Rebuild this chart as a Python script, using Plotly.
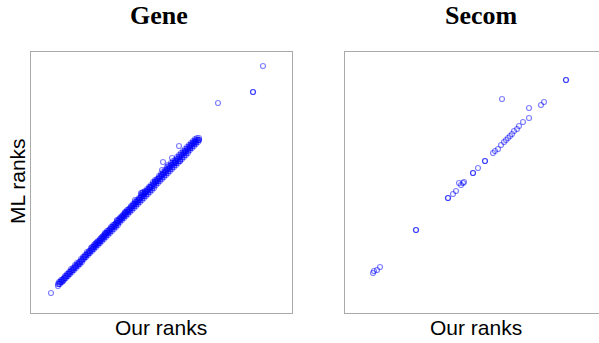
import plotly.graph_objects as go

# ---------------- data (ranks) ----------------
# Gene: dense band, lower row
gene_band_our_a = [27,29,31,33,35,37,39,41,43,45,47,49,51,53,55,57,59,61,63,65,67,69,71,73,75,77,79,81,83,85,87,89,91,93,95,97,99,101,103,105,107,109,111,113,115,117,119,121,123,125,127,129,131,133,135,137,139,141,143,145,147,149,151,153,155,157,159,161,163,165,167]
gene_band_ml_a = [27,29,31,33,35,37,39,41,43,45,47,49,51,54,56,58,60,62,64,66,68,70,72,74,76,78,80,82,84,86,88,91,93,95,97,99,101,103,105,107,109,111,113,115,117,119,121,123,125,128,130,132,134,136,138,140,142,144,146,148,150,152,154,156,158,160,163,165,167,169,171]
gene_band_ml_c = [29,31,33,35,37,39,41,43,45,47,49,51,53,56,58,60,62,64,66,68,70,72,74,76,78,80,82,84,86,88,90,93,95,97,99,101,103,105,107,109,111,113,115,117,119,121,123,125,127,130,132,134,136,138,140,142,144,146,148,150,152,154,156,158,160,162,165,167,169,171,173]
# Gene: dense band, upper rows
gene_band_our_b = [28,30,32,34,36,38,40,42,44,46,48,50,52,54,56,58,60,62,64,66,68,70,72,74,76,78,80,82,84,86,88,90,92,94,96,98,100,102,104,106,108,110,112,114,116,118,120,122,124,126,128,130,132,134,136,138,140,142,144,146,148,150,152,154,156,158,160,162,164,166,168]
gene_band_ml_b = [31,33,34,37,39,41,44,45,48,50,51,54,56,58,61,62,65,66,69,71,72,75,77,79,82,83,86,88,89,92,94,96,98,100,103,104,107,109,111,113,115,118,119,122,124,126,128,131,133,134,137,139,141,143,146,147,150,152,153,156,158,160,162,164,166,168,170,172,174,175,175]
gene_band_ml_d = [29,31,32,35,37,39,42,43,46,48,49,52,54,56,59,60,63,64,67,69,70,73,75,77,80,81,84,86,87,90,92,94,96,98,101,102,105,107,109,111,113,116,117,120,122,124,126,129,131,132,135,137,139,141,144,145,148,150,151,154,156,158,160,162,164,166,168,170,172,173,173]
gene_band_our_e = [61,63,65,67,69,71,73,75,77,79,81,83,85,87,89,91,93,95,97,99,101,103,105,107,109,111,113,115,117,119,121,123,125,127,129,131,133,135,137,139,141,143,145,147,149,151,153,155,157,159,161,163,165]
gene_band_ml_e = [66,68,70,72,74,76,78,80,82,84,86,88,90,92,95,97,99,101,103,105,107,109,111,113,115,117,119,121,123,125,127,129,132,134,136,138,140,142,144,146,148,150,152,154,156,158,160,162,164,167,169,171,173]
# Gene: isolated points
gene_pts_our = [20, 74, 86, 94, 104, 111, 114, 110, 112, 119, 124, 131, 132, 137, 141, 144, 148, 149, 154, 159, 164, 168, 187, 222, 222, 232]
gene_pts_ml  = [20, 80, 93, 101, 113, 120, 121, 120, 121, 126, 131, 143, 151, 148, 155, 150, 167, 152, 161, 165, 170, 173, 210, 221, 221, 247]

# Secom
secom_our = [221, 221, 157, 184, 196, 199, 184, 178, 174, 172, 169, 167, 165, 163, 161, 159, 156, 153, 150, 148, 140, 140, 133, 128, 128, 119, 118, 116, 114, 111, 108, 103, 103, 71, 71, 35, 32, 29, 28]
secom_ml  = [233, 233, 214, 205, 208, 211, 195, 191, 187, 184, 182, 179, 177, 175, 173, 171, 168, 164, 162, 160, 152, 152, 145, 140, 140, 131, 130, 128, 130, 122, 119, 115, 115, 83, 83, 46, 43, 42, 40]

titles = ["Gene", "Secom"]
x_label = "Our ranks"
y_label = "ML ranks"

# ---------------- figure ----------------
mk = dict(symbol="circle-open", size=5, color="rgba(0,0,255,0.5)", line=dict(width=1.2))

gene_x = (gene_band_our_a + gene_band_our_a + gene_band_our_b + gene_band_our_b
          + gene_band_our_e + gene_pts_our)
gene_y = (gene_band_ml_a + gene_band_ml_c + gene_band_ml_b + gene_band_ml_d
          + gene_band_ml_e + gene_pts_ml)

fig = go.Figure()
fig.add_trace(go.Scatter(x=gene_x, y=gene_y, mode="markers", marker=mk,
                         xaxis="x", yaxis="y", showlegend=False))
fig.add_trace(go.Scatter(x=secom_our, y=secom_ml, mode="markers", marker=mk,
                         xaxis="x2", yaxis="y2", showlegend=False))

W, H = 599, 343
yd = [(H - 313) / H, (H - 52) / H]
ax_common = dict(showgrid=False, zeroline=False, showticklabels=False, ticks="",
                 showline=True, linecolor="#aaaaaa", linewidth=1)

fig.update_layout(
    width=W, height=H, margin=dict(l=0, r=0, t=0, b=0),
    paper_bgcolor="white", plot_bgcolor="white",
    xaxis=dict(domain=[31 / W, 292 / W], range=[0, 261], mirror=True, anchor="y", **ax_common),
    yaxis=dict(domain=yd, range=[0, 261], mirror=True, anchor="x", **ax_common),
    xaxis2=dict(domain=[345 / W, 1.0], range=[0, 254], mirror=True, anchor="y2", **ax_common),
    yaxis2=dict(domain=yd, range=[0, 261], mirror=False, anchor="x2", **ax_common),
)

title_font = dict(family="Liberation Serif", size=26, color="black")
label_font = dict(family="Liberation Sans", size=21, color="black")

annotations = [
    dict(text="<b>%s</b>" % titles[0], x=158.5 / W, y=1.0, xref="paper", yref="paper",
         xanchor="center", yanchor="top", showarrow=False, font=title_font, borderpad=0),
    dict(text="<b>%s</b>" % titles[1], x=481 / W, y=1.0, xref="paper", yref="paper",
         xanchor="center", yanchor="top", showarrow=False, font=title_font, borderpad=0),
    dict(text=x_label, x=160.5 / W, y=(H - 327) / H, xref="paper", yref="paper",
         xanchor="center", yanchor="middle", showarrow=False, font=label_font),
    dict(text=x_label, x=475.5 / W, y=(H - 327) / H, xref="paper", yref="paper",
         xanchor="center", yanchor="middle", showarrow=False, font=label_font),
    dict(text=y_label, x=17 / W, y=(H - 181) / H, xref="paper", yref="paper", textangle=-90,
         xanchor="center", yanchor="middle", showarrow=False, font=label_font),
]
fig.update_layout(annotations=annotations)

fig.write_html("out.html")
